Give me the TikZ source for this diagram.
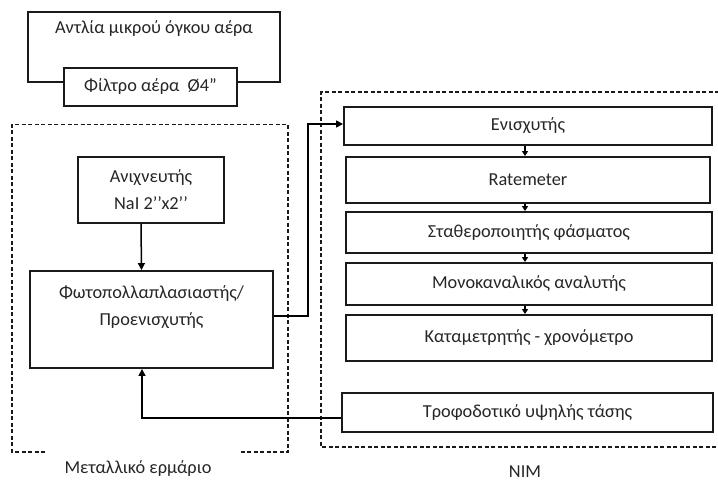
\documentclass[tikz,border=0pt]{standalone}
\usepackage{fontspec}
\setmainfont{Carlito}
\usetikzlibrary{arrows.meta}
\definecolor{boxc}{HTML}{1a1a1a}
\tikzset{
  x=1pt,y=-1pt,
  every node/.style={font=\fontsize{18.3}{27}\selectfont, text=black!85},
  blk/.style={draw=boxc, line width=1.9pt, fill=white, inner sep=0pt, align=center},
  dsh/.style={draw=boxc, line width=1.6pt, dash pattern=on 4pt off 2.5pt},
  conn/.style={draw=black, line width=1.5pt},
  arr/.style={conn, -{Triangle[length=7pt,width=7pt]}},
  sarr/.style={conn, -{Triangle[length=5pt,width=6pt]}},
  lbl/.style={inner sep=0pt}
}
\begin{document}
\begin{tikzpicture}
\useasboundingbox (0,0) rectangle (718,482);
% pump and filter
\node[blk, minimum width=252pt, text height=21pt, text depth=49pt, anchor=base] (pump) at (154,33) {Αντλία μικρού όγκου αέρα};
\node[blk, minimum width=173pt, minimum height=38pt] (filt) at (150.5,87) {Φίλτρο αέρα\ \ Ø4”};
% metal cabinet
\coordinate (cbl) at (45,452);
\coordinate (cbr) at (240,452);
\draw[dsh] (cbl) -- (12,452) -- (12,124.5) -- (288,124.5) -- (288,452) -- (cbr);
\node[lbl] (cablbl) at (138,469) {Μεταλλικό ερμάριο};
% NIM frame
\draw[dsh] (719,92) -- (321,92) -- (321,447) -- (719,447);
\node[lbl] (nimlbl) at (525,472) {NIM};
% detector and PM
\node[blk, minimum width=146pt, minimum height=66pt] (det) at (151,190) {Ανιχνευτής\\NaI 2’’x2’’};
\node[blk, minimum width=243pt, minimum height=97pt] (pm) at (151.5,319.5) {Φωτοπολλαπλασιαστής/\\Προενισχυτής\\ };
% NIM modules
\node[blk, minimum width=368pt, minimum height=38pt] (amp) at (528,126) {Ενισχυτής};
\node[blk, minimum width=364pt, minimum height=46pt] (rate) at (528,180) {Ratemeter};
\node[blk, minimum width=366pt, minimum height=41pt] (stab) at (529,232.5) {Σταθεροποιητής φάσματος};
\node[blk, minimum width=366pt, minimum height=42pt] (mca) at (529,284) {Μονοκαναλικός αναλυτής};
\node[blk, minimum width=366pt, minimum height=46pt] (cnt) at (529,338) {Καταμετρητής - χρονόμετρο};
\node[blk, minimum width=371pt, minimum height=39pt] (hv) at (527.5,412.5) {Τροφοδοτικό υψηλής τάσης};
% connectors
\draw[arr] ([xshift=-10pt]det.south) -- ([xshift=-10pt]pm.north);
\coordinate (up) at (308,124);
\draw[arr] ([yshift=3.5pt]pm.east) -| (up) -- (amp.west |- up);
\draw[arr] ([yshift=-5.5pt]hv.west) -| ([xshift=-9.5pt]pm.south);
\draw[sarr] ([xshift=-3pt]amp.south) -- ([xshift=-3pt]amp.south |- rate.north);
\draw[sarr] ([xshift=-3pt]amp.south |- rate.south) -- ([xshift=-3pt]amp.south |- stab.north);
\draw[sarr] ([xshift=-3pt]amp.south |- stab.south) -- ([xshift=-3pt]amp.south |- mca.north);
\draw[sarr] ([xshift=-3pt]amp.south |- mca.south) -- ([xshift=-3pt]amp.south |- cnt.north);
\end{tikzpicture}
\end{document}
